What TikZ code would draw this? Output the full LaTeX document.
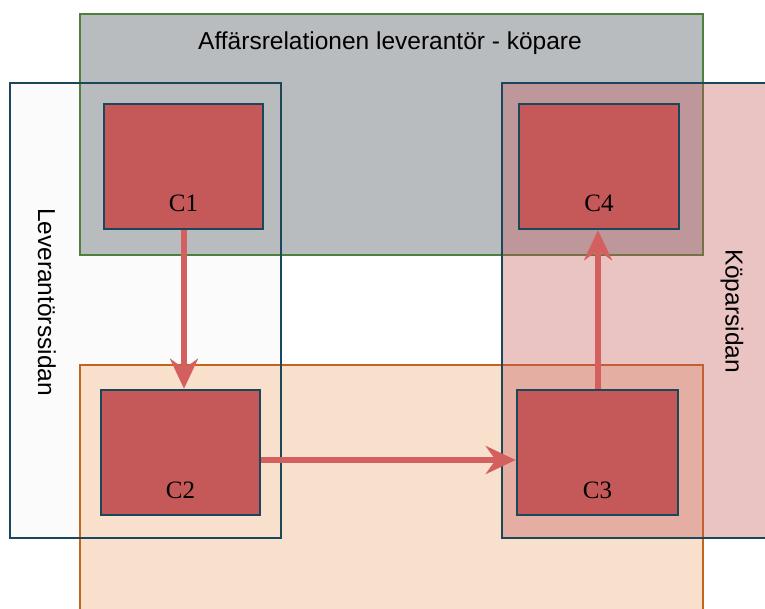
\documentclass[tikz,border=0pt]{standalone}
\usepackage{fontspec}
\setmainfont{Liberation Serif}
\newfontfamily\labelfont{Liberation Sans}
\usetikzlibrary{arrows.meta}
\definecolor{tealb}{HTML}{1A4759}
\definecolor{greenb}{HTML}{4E7F3C}
\definecolor{orangeb}{HTML}{C2661F}
\definecolor{greyf}{HTML}{B9BCBE}
\definecolor{peachf}{HTML}{F8E0CD}
\definecolor{whitef}{HTML}{FBFBFC}
\definecolor{redf}{HTML}{C55858}
\definecolor{arrowc}{HTML}{D35F5F}
\tikzset{
  cbox/.style={draw=tealb, line width=2.6pt, fill=redf, inner sep=0pt, minimum height=125pt},
  clabel/.style={font=\fontsize{25}{25}\selectfont, anchor=base},
  side/.style={font=\labelfont\fontsize{24.5}{24.5}\selectfont},
  flow/.style={draw=arrowc, line width=6pt, -{Stealth[length=30pt,width=28pt,inset=10pt]}},
}
\begin{document}
\begin{tikzpicture}[x=1pt,y=-1pt]
\useasboundingbox (0,0) rectangle (765,609);
% fills
\fill[whitef] (10,83) rectangle (281,538);
\fill[greyf] (80,14) rectangle (703,255);
\fill[peachf] (80,365) rectangle (703,615);
% borders
\draw[greenb, line width=2pt] (80,14) rectangle (703,255);
\draw[orangeb, line width=2pt] (80,615) -- (80,365) -- (703,365) -- (703,615);
\draw[tealb, line width=2.2pt] (10,83) rectangle (281,538);
% right side (transparent)
\fill[redf, opacity=0.36] (502,83) rectangle (770,538);
\draw[tealb, line width=2.2pt] (770,83) -- (502,83) -- (502,538) -- (770,538);
% labels
\node[side] (title) at (390,43) {Affärsrelationen leverantör - köpare};
\node[side, rotate=-90] (lev) at (47,302) {Leverantörssidan};
\node[side, rotate=-90] (kop) at (732,311) {Köparsidan};
% C boxes
\node[cbox, minimum width=159pt] (c1) at (183.5,166.5) {};
\node[cbox, minimum width=160pt] (c4) at (599,166.5) {};
\node[cbox, minimum width=159pt] (c2) at (180.5,452.5) {};
\node[cbox, minimum width=161pt] (c3) at (597.5,452.5) {};
\node[clabel] (l1) at (183.5,212) {C1};
\node[clabel] (l4) at (599,212) {C4};
\node[clabel] (l2) at (180.5,498) {C2};
\node[clabel] (l3) at (597.5,498) {C3};
% arrows
\draw[flow] (c1.south -| 184,0) -- (c2.north -| 184,0);
\draw[flow] (c2.east |- 0,460) -- (c3.west |- 0,460);
\draw[flow] (c3.north -| 598,0) -- (c4.south -| 598,0);
\end{tikzpicture}
\end{document}
